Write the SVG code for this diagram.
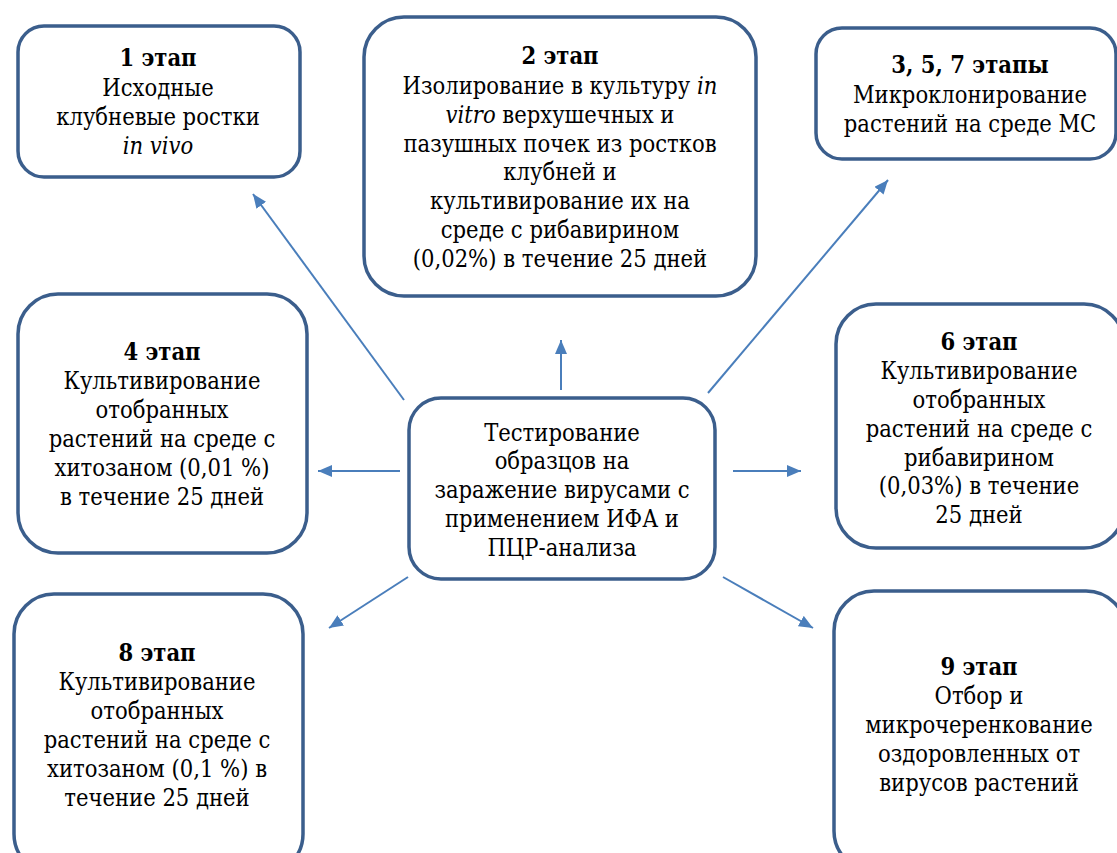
<svg xmlns="http://www.w3.org/2000/svg" width="1117" height="853" viewBox="0 0 1117 853">
<style>
.box{fill:#fff;stroke:#3B5E8C;stroke-width:3.5}
text{font-family:'DejaVu Serif Condensed','DejaVu Serif',serif;font-stretch:condensed;font-size:23.5px;fill:#000;text-anchor:middle}
.b{font-weight:bold}
.i{font-style:italic}
.c{stroke:#4A7EBB;stroke-width:2;fill:none;marker-end:url(#ah)}
</style>
<defs>
<marker id="ah" markerUnits="userSpaceOnUse" markerWidth="14" markerHeight="12" refX="14" refY="6" orient="auto">
<path d="M0,0 L14,6 L0,12 z" fill="#4A7EBB"/>
</marker>
</defs>
<rect width="1117" height="853" fill="#fff"/>
<g id="connectors">
<line class="c" x1="404" y1="400" x2="253" y2="194"/>
<line class="c" x1="561" y1="390" x2="561" y2="340"/>
<line class="c" x1="708" y1="393" x2="888" y2="180"/>
<line class="c" x1="400" y1="471" x2="318" y2="471"/>
<line class="c" x1="733" y1="471" x2="801" y2="471"/>
<line class="c" x1="408" y1="577" x2="329" y2="628"/>
<line class="c" x1="723" y1="577" x2="813" y2="628"/>
</g>
<g id="n1">
<rect class="box" x="18" y="26" width="282" height="151" rx="26"/>
<text><tspan class="b" x="158" y="66">1 этап</tspan><tspan x="158" y="96">Исходные</tspan><tspan x="158" y="125">клубневые ростки</tspan><tspan class="i" x="158" y="154">in vivo</tspan></text>
</g>
<g id="n2">
<rect class="box" x="364" y="17" width="392" height="279" rx="40"/>
<text><tspan class="b" x="560" y="64">2 этап</tspan><tspan x="560" y="94">Изолирование в культуру <tspan class="i">in</tspan></tspan><tspan x="560" y="123"><tspan class="i">vitro</tspan> верхушечных и</tspan><tspan x="560" y="152">пазушных почек из ростков</tspan><tspan x="560" y="180">клубней и</tspan><tspan x="560" y="209">культивирование их на</tspan><tspan x="560" y="238">среде с рибавирином</tspan><tspan x="560" y="267">(0,02%) в течение 25 дней</tspan></text>
</g>
<g id="n3">
<rect class="box" x="816" y="28" width="300" height="131" rx="26"/>
<text><tspan class="b" x="970" y="73">3, 5, 7 этапы</tspan><tspan x="970" y="103">Микроклонирование</tspan><tspan x="970" y="132">растений на среде МС</tspan></text>
</g>
<g id="n4">
<rect class="box" x="18" y="294" width="289" height="259" rx="40"/>
<text><tspan class="b" x="162" y="360">4 этап</tspan><tspan x="162" y="389">Культивирование</tspan><tspan x="162" y="418">отобранных</tspan><tspan x="162" y="447">растений на среде с</tspan><tspan x="162" y="476">хитозаном (0,01 %)</tspan><tspan x="162" y="505">в течение 25 дней</tspan></text>
</g>
<g id="center">
<rect class="box" x="409" y="398" width="306" height="181" rx="32"/>
<text><tspan x="562" y="441">Тестирование</tspan><tspan x="562" y="469">образцов на</tspan><tspan x="562" y="498">заражение вирусами с</tspan><tspan x="562" y="527">применением ИФА и</tspan><tspan x="562" y="556">ПЦР-анализа</tspan></text>
</g>
<g id="n6">
<rect class="box" x="836" y="304" width="288" height="244" rx="40"/>
<text><tspan class="b" x="979" y="350">6 этап</tspan><tspan x="979" y="379">Культивирование</tspan><tspan x="979" y="408">отобранных</tspan><tspan x="979" y="437">растений на среде с</tspan><tspan x="979" y="466">рибавирином</tspan><tspan x="979" y="494">(0,03%) в течение</tspan><tspan x="979" y="523">25 дней</tspan></text>
</g>
<g id="n8">
<rect class="box" x="14" y="594" width="289" height="280" rx="40"/>
<text><tspan class="b" x="157" y="661">8 этап</tspan><tspan x="157" y="690">Культивирование</tspan><tspan x="157" y="719">отобранных</tspan><tspan x="157" y="748">растений на среде с</tspan><tspan x="157" y="777">хитозаном (0,1 %) в</tspan><tspan x="157" y="806">течение 25 дней</tspan></text>
</g>
<g id="n9">
<rect class="box" x="834" y="591" width="292" height="280" rx="40"/>
<text><tspan class="b" x="979" y="675">9 этап</tspan><tspan x="979" y="704">Отбор и</tspan><tspan x="979" y="733">микрочеренкование</tspan><tspan x="979" y="762">оздоровленных от</tspan><tspan x="979" y="791">вирусов растений</tspan></text>
</g>
</svg>
